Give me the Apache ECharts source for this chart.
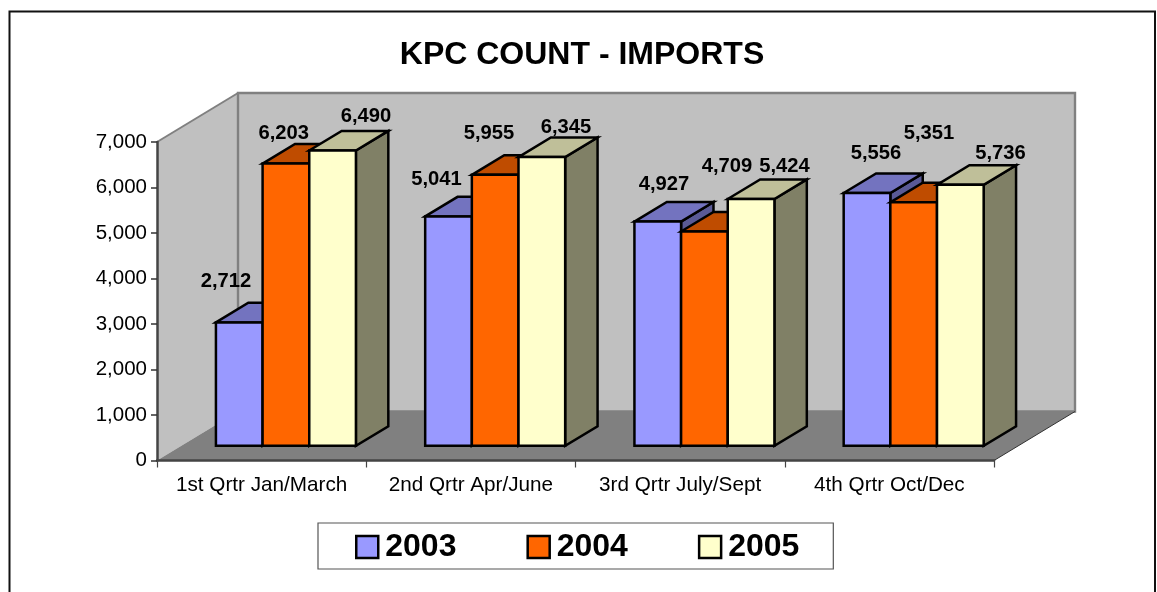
<!DOCTYPE html>
<html><head><meta charset="utf-8">
<style>html,body{margin:0;padding:0;background:#fff}#c{width:1157px;height:592px}</style>
<script src="https://cdn.jsdelivr.net/npm/echarts@6/dist/echarts.min.js"></script>
</head><body><div id="c"></div>
<script>
const categories = ['1st Qrtr Jan/March','2nd Qrtr Apr/June','3rd Qrtr July/Sept','4th Qrtr Oct/Dec'];
const years = ['2003','2004','2005'];
const values2003 = [2712,5041,4927,5556];
const values2004 = [6203,5955,4709,5351];
const values2005 = [6490,6345,5424,5736];
const yTicks = {min:0,max:7000,interval:1000};

// Styling / placement (not data)
const labelOffsets = [
  [[-13.3,-41.4],[-12,-37.4],[6.2,-37.6],[9,-40]],
  [[-2.2,-30.6],[-6.2,-41.8],[22.6,-65.5],[15.3,-69.3]],
  [[33.4,-34.5],[24.2,-30.1],[33.4,-33],[40.2,-32.3]]
];
const DX=81, DY=49, DEPTH_FRONT=0.3, DEPTH_BAR=0.4, GROUP=0.669;
const FONT='"Liberation Sans",Arial,sans-serif';
const faces = [
  {front:'#9999FF',top:'#7373BF',side:'#5A5A96'},
  {front:'#FF6600',top:'#BF4C00',side:'#803300'},
  {front:'#FFFFCC',top:'#BFBF99',side:'#808066'}
];
const stroke='#000', LW=2.5;

function poly(points,fill,st,lw){
  return {type:'polygon',shape:{points},style:{fill,stroke:st||stroke,lineWidth:lw===undefined?LW:lw,lineJoin:'miter'}};
}
function barSeries(idx,values){
  const f=faces[idx];
  return {
    name:years[idx],type:'custom',coordinateSystem:'cartesian2d',z:3+idx,
    itemStyle:{color:f.front,borderColor:'#000',borderWidth:2.5},
    data:values.map((v,i)=>[i,v]),
    encode:{x:0,y:1},
    renderItem(params,api){
      const i=api.value(0),v=api.value(1);
      const band=api.size([1,0])[0];
      const w=band*GROUP/3;
      const top=api.coord([i,v]),base=api.coord([i,0]);
      const ox=DX*DEPTH_FRONT,oy=DY*DEPTH_FRONT;
      const bx=DX*DEPTH_BAR,by=DY*DEPTH_BAR;
      const l=top[0]+ox+(idx-1.5)*w,r=l+w,t=top[1]-oy,b=base[1]-oy;
      const off=labelOffsets[idx][i];
      return {type:'group',children:[
        poly([[r,t],[r+bx,t-by],[r+bx,b-by],[r,b]],f.side),
        poly([[l,t],[l+bx,t-by],[r+bx,t-by],[r,t]],f.top),
        poly([[l,t],[r,t],[r,b],[l,b]],f.front),
        {type:'text',style:{x:(l+r)/2+off[0],y:t+off[1]+0.7,text:v.toLocaleString('en-US'),
          font:'bold 20.2px '+FONT,fill:'#000',align:'center',verticalAlign:'middle'}}
      ]};
    }
  };
}
const wallSeries={
  type:'custom',coordinateSystem:'cartesian2d',z:1,silent:true,
  data:[[0,yTicks.max]],encode:{x:0,y:1},
  renderItem(params,api){
    const band=api.size([1,0])[0];
    const tl=api.coord([0,yTicks.max]),bl=api.coord([0,0]);
    const x0=tl[0]-band/2,x1=x0+band*categories.length,yT=tl[1],yB=bl[1];
    const wall='#C0C0C0',edge='#808080';
    return {type:'group',children:[
      poly([[x0,yT],[x0+DX,yT-DY],[x0+DX,yB-DY],[x0,yB]],wall,edge,0),
      poly([[x0+DX,yT-DY],[x1+DX,yT-DY],[x1+DX,yB-DY],[x0+DX,yB-DY]],wall,edge,2.4),
      poly([[x0,yB],[x0+DX,yB-DY],[x1+DX,yB-DY],[x1,yB]],edge,edge,0),
      {type:'line',shape:{x1:x0,y1:yT,x2:x0+DX,y2:yT-DY},style:{stroke:edge,lineWidth:2}},
      {type:'line',shape:{x1:x1,y1:yB,x2:x1+DX,y2:yB-DY},style:{stroke:'#333',lineWidth:1}}
    ]};
  }
};
const chart=echarts.init(document.getElementById('c'),null,{renderer:'canvas'});
chart.setOption({
  animation:false,
  backgroundColor:'#fff',
  title:{text:'KPC COUNT - IMPORTS',left:577,textAlign:'center',top:34,
    textStyle:{fontFamily:FONT,fontWeight:'bold',fontSize:32,color:'#000'}},
  grid:{left:157,right:163,top:142,bottom:131.5,containLabel:false},
  xAxis:{type:'category',data:categories,z:6,
    axisLine:{lineStyle:{color:'#444',width:2.5}},
    axisTick:{show:true,length:7,alignWithLabel:false,lineStyle:{color:'#444',width:1.2}},
    axisLabel:{color:'#000',fontSize:20.7,margin:14,interval:0,fontFamily:FONT},
    splitLine:{show:false}},
  yAxis:{type:'value',min:yTicks.min,max:yTicks.max,interval:yTicks.interval,z:6,
    axisLine:{show:true,lineStyle:{color:'#444',width:2.5}},
    axisTick:{show:true,length:6,lineStyle:{color:'#333',width:1.5}},
    axisLabel:{color:'#000',fontSize:20.5,margin:10,formatter:v=>v.toLocaleString('en-US'),fontFamily:FONT},
    splitLine:{show:false}},
  legend:{data:years,left:318,top:523,orient:'horizontal',
    padding:[8,34,6,37],itemGap:70,itemWidth:22,itemHeight:22,
    backgroundColor:'#fff',borderColor:'#555',borderWidth:1.2,
    itemStyle:{borderColor:'#000',borderWidth:2.5},
    textStyle:{fontSize:32,fontWeight:'bold',color:'#000',padding:[0,0,0,2],fontFamily:FONT},
    icon:'rect',selectedMode:false},
  graphic:[{type:'rect',z:-1,silent:true,shape:{x:9.5,y:11.5,width:1145.5,height:600},style:{fill:'none',stroke:'#111',lineWidth:2}}],
  series:[wallSeries,barSeries(0,values2003),barSeries(1,values2004),barSeries(2,values2005)]
});
</script></body></html>
